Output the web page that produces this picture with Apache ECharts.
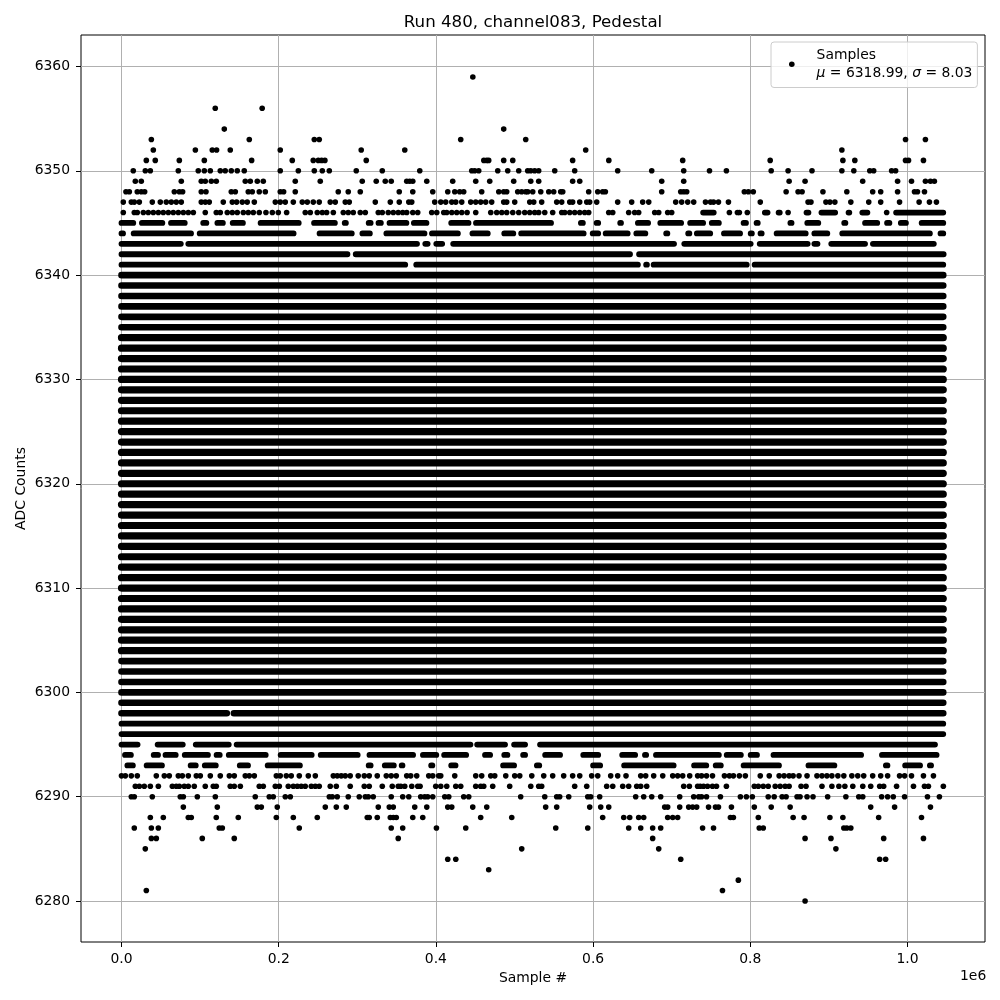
<!DOCTYPE html>
<html>
<head>
<meta charset="utf-8">
<style>html,body{margin:0;padding:0;background:#fff}#c{width:1000px;height:1000px}</style>
<script src="https://cdn.jsdelivr.net/npm/echarts@6/dist/echarts.min.js"></script>
</head>
<body>
<div id="c"></div>
<script>
// Sample numbers are in thousands; ADC levels are the row keys.
const r6359=[447];
const r6356=[119.3,179];
const r6354=[130.8,486.3];
const r6353=[38,162.6,245.3,251.6,431.6,514.3,997.5,1022.8];
const r6352=[40.5,94,115.5,121,138.4,202,305,360.4,590.6,916.5];
const r6351=[31.6,43,73.6,105.4,165.6,217.3,244,250.4,254.6,258.8,311.4,461,464.7,467.2,486.3,497.8,574,620,714,825.3,917.8,933,997.5,1001.3,1020.3];
const r6350=[15,30.3,36.7,72.3,97.7,105.4,113,125.7,132,139.7,147.3,156.2,202,225,245.3,255.5,264.4,298.7,331.8,379.5,445.6,449.4,454.5,478.7,491.4,505.4,516.8,520.7,525.7,530.8,551.2,576.6,631.3,674.6,715.3,748.1,769.6,826.6,848.1,878.5,916.5,931.7,952,957,979.8,984.9];
const r6349=[17.6,25.2,76.1,101.5,106.6,114.3,120.6,157.5,163.9,172.8,180.4,221.1,252.9,306.3,324.1,335.6,343.2,362.9,366.7,370.6,388.4,421.4,450.7,468.5,499,520.7,530.8,574,583,687.3,715.3,849.4,869.7,943,987.4,1005.1,1022.8,1029.2,1034.2];
const r6348=[5.7,10,20.1,25.2,29.5,67.2,73.6,77.8,101.5,107.5,139.7,144.8,161.3,166.4,175.3,183,202,206.3,221.1,275.8,288.5,303.8,353.4,370.6,396,415.1,424,430.3,435.4,458.3,480,486.3,490.1,504.1,509.2,514.3,516.8,523.2,533.4,543.6,549.9,558.8,561.4,594.4,605.9,612.2,615.6,687.3,711.5,715.3,719.1,792.4,797.5,803.8,845.6,860.8,865.9,892.4,922.8,955.7,965.9,987.4,1008.9,1012.7,1021.6];
const r6347=[2.3,12.5,16.3,22.7,39.2,49.4,57,63.4,69.7,76.1,101.5,106.6,111.7,129.5,141,146.5,153.7,160,169,195.7,202,208.4,218.6,230,236.4,244,251.6,265.6,272,284.7,289.8,322.9,342,353.4,365.5,369.3,398.5,406.2,412.5,420.2,425.3,432.9,444.3,450.7,457,463.4,471,486.3,490.1,500.3,519.4,524.5,534.6,553.7,560.1,570.3,574,583,591.9,595.7,604.6,631.3,649.1,663.1,670.8,705.1,712.7,720.4,728,743,749.4,753.2,759.5,772.2,812.7,873.5,877.2,896.2,901.3,907.6,927.9,950.7,965.9,989.9,1014.8,1027.9,1036.8];
const r6346=[2.3,16.3,20.1,27.8,34.1,40.5,46.9,53.2,59.6,65.9,72.3,78.7,85,91.4,106.6,120.6,125.7,134.6,141,147.3,155,161.3,167.7,175.3,183.8,191.9,199.5,210.1,233.8,240.2,249.1,255.5,261,269.5,282.2,288.5,294.9,303.8,310.2,326.7,331.8,339.4,345.8,352.1,357.8,362.9,370.6,376.9,394.7,401.1,410,413.8,420.2,426.5,432.9,439.7,450.7,469.8,477.4,483.8,490.1,497.8,505.4,513,519.4,525.7,530.8,538.5,548.6,560.1,563.9,570.3,576.6,583,589.3,594.4,619.9,625,645.3,652.9,658,678.4,683.5,694.9,700,773.4,783.6,786.1,796.2,848.1,973.5];
const r6292=[0,4.9,12.5,20.1,44.3,54.5,60.8,72.3,77.4,85,95.2,100.3,113,125.7,137.2,143.5,157.5,162.6,169,197,202,209.7,216,226.2,237.7,246.6,269.5,274.5,279.6,284.7,291,301.2,308.9,315.2,325.4,336.9,343.2,349.6,362.9,368,375.6,390.9,396,403.6,406.2,424,450.7,458.3,469.8,474.9,488.9,500.3,506.7,522,537.2,548.6,562.6,574,583,598.2,605.9,622.4,631.3,641.9,660.6,666.9,677.1,688.6,701.3,707.6,714,722.9,733,738,744.3,751.9,767.1,773.4,778.5,786.1,793.7,812.7,824.1,836.7,843,849.4,854.5,862,872.2,884.8,891.2,897.5,903.8,911.4,919,929.2,936.7,944.3,955.7,965.9,974.7,989.9,996.3,1005.1,1020.3,1033];
const r6291=[17.6,22.7,29,36.7,46.9,64.7,69.7,73.6,79.9,85,92.6,106.6,116.8,120.6,138.4,143.5,151.2,175.3,180.4,195.7,200.8,212.2,218.6,223.7,228.7,233.8,241.5,246.6,251.6,265.6,273.3,291,308.9,315.2,331.8,344.5,352.1,355.3,360.4,369.3,376.9,379.9,399.8,406.2,413.8,425.3,431.6,450.7,457,460.9,472.3,493.9,520.7,530.8,534.6,576.6,591.9,617.3,625,637.7,645.3,655.5,660.6,668.2,715.3,722.5,733,736.3,740.5,745.6,751.9,757,769.6,805.1,810.2,816.5,822.8,831.7,838,844.3,849.4,864.6,870.9,891.2,903.8,912.7,920.3,930.4,943.1,953.2,964.6,969.7,986.1,1007.6,1021.6,1026.6,1045.6];
const r6290=[12.5,16.3,39.2,74.8,78.7,96.5,119.4,170.2,188,193.1,208.4,214.8,264.4,268.2,274.5,288.5,302.5,310.2,314,320.3,343.2,357.8,365.5,380.7,385.8,389.6,396,411.3,416.4,435.4,441.8,507.9,538.5,553.7,557.5,569,593.2,597,608.4,654.2,664.4,674.6,686,710.2,728,734.4,738,744.3,762,787.4,795,802.6,822.8,830.4,840.5,845.6,859.5,863.3,872.2,879.8,898.4,921.6,938,943.1,967.1,974.7,981.9,996.3,1025.4,1040.6];
const r6289=[78.7,121.9,172.8,177.9,198.2,259.3,273.3,286,326.7,340.7,345.8,373.1,388.4,415.1,420.2,446.9,464.7,539.7,553.7,595.7,609.7,619.9,691.1,694.9,710.2,721.6,726.7,731.8,746.9,755.7,759.5,776,805.1,826.6,850.7,953.2,983.6,1029.2];
const r6288=[36.7,53.2,85,88.8,120.6,148.6,197,218.6,249.1,312.7,315.2,325.4,342,345.8,349.6,370.6,383.3,457,496.5,612.2,639,646.6,658,664.4,694.9,701.3,707.6,774.7,778.5,810.2,854.5,868.4,901.3,917.8,963.3,1017.8];
const r6287=[16.3,38,46.9,124.4,128.3,226.2,343.2,357.8,400.7,438,552.5,593.2,645.3,660.6,675.8,686,739.3,753.2,811.4,816.5,919,922.8,927.9];
const r6286=[38,44.3,102.8,143.5,352.1,675.8,869.7,902.6,969.7,1020.3];
const r6285=[30.3,509.2,683.5,908.9];
const r6284=[415.1,425.3,711.5,964.6,972.2];
const r6283=[467.2];
const r6282=[784.8];
const r6281=[31.6,764.6];
const r6280=[869.7];

// Runs of overlapping samples in the dense rows: centres of the first and last dot, thousands.
const b6346=[[740,753.5],[818.5,822],[836,837.5],[871.5,874],[890.5,908],[925,926],[942.5,949],[985.5,1045.5]];
const b6345=[[0,15],[26,52],[63,80.5],[90,90],[104,108],[122,129],[141.5,154.5],[164,164],[177,225.5],[234.7,234.7],[245,271.5],[284,285.5],[295,295],[314.5,317],[327,330],[341,362.5],[372,388],[419.5,441.5],[451,546.5],[559,559],[584.5,587],[604.5,606.5],[617.3,617.3],[634.5,635.5],[649,649],[657,670],[685.5,712],[723.5,740],[751,760],[774.7,774.7],[791.5,794.5],[808,809.5],[835.5,835.5],[851,852.5],[872.5,886.5],[905.2,905.2],[919.5,921],[933.5,933.5],[946,961.5],[974,977],[991.5,998],[1018,1045.5]];
const b6344=[[0,2],[15.5,88.5],[99.5,219],[232,232],[242.7,242.7],[252,293],[306.5,316],[337,385.5],[395,428],[437,437.5],[446.5,466],[476,476],[487,498.5],[508.5,588],[599.5,606.5],[616,644],[655,666.5],[676,676],[693,694.5],[702.6,702.6],[711.5,711.5],[721,722.5],[732,749],[766.5,787],[800.5,802],[813,814.5],[833.5,870.5],[881.5,898],[917,1028.5],[1042,1045.5]];
const b6343=[[0,75.5],[85,376],[386.5,389.5],[400.5,408],[422,703],[716,800.5],[812,873],[881.5,885.5],[893.7,893.7],[903,946],[956,1033.5],[1045,1045.5]];
const b6342=[[0,287.5],[298,647],[658.5,1046]];
const b6341=[[0,361],[375,657],[667.5,668.5],[677,795.5],[805.5,1045.5]];
const b6298=[[0,134],[143,1045.5]];
const b6295=[[0,20.5],[35.5,35.5],[46,78],[94.5,136.5],[146.5,444],[452.5,488],[499.5,513.5],[522.5,522.5],[532.5,1035]];
const b6294=[[4.5,12],[23,23.5],[41,46.5],[56,69],[80.5,110],[121,125],[136.5,183.5],[190.6,190.6],[202.5,242],[253.5,300.5],[315.5,371],[383.5,400.5],[410.5,438.5],[450.7,450.7],[462.5,469],[487,491],[499,499],[511,513.5],[524.5,524.5],[539,558],[570,570],[587.5,606.5],[620,620.5],[637,653.5],[666,667.5],[680,760],[770,788],[800.5,808.5],[829.5,941],[952.5,952.5],[967.5,1037],[1045,1045]];
const b6293=[[7.5,14.5],[32,51.5],[69.7,69.7],[88,94.5],[106,120],[136,136],[150.5,161],[174,174],[186,227],[239,239],[268.2,268.2],[280,280.5],[291,291],[314.5,317],[335,346.5],[356.5,357.5],[368,368],[394,395.5],[419.5,425],[452,452],[459.6,459.6],[470,470.5],[485.5,499.5],[513,513],[528.5,531.5],[548.6,548.6],[557.5,557.5],[574,574],[600,609],[621,621],[630,630],[639.5,702.5],[715,715],[728.5,744],[756,762.5],[776,776],[791.5,836.5],[844.3,844.3],[854.5,854.5],[874,907],[919.5,920],[940,940],[959,959],[972.5,974.5],[986,986],[997,1016],[1028.5,1030],[1044.4,1044.4]];

// Rows in which the samples merge into an unbroken run from first to last sample.
const coreLevels=[6304,6305,6306,6307,6308,6309,6310,6311,6312,6313,6314,6315,6316,6317,6318,6319,6320,6321,6322,6323,6324,6325,6326,6327,6328,6329,6330,6331,6332,6333,6334];
const shoulderLevels=[6299,6300,6301,6302,6303,6335,6336,6337,6338,6339,6340];
const edgeLevels=[6296,6297];
const solidRun=[0,1045.5];

const xTicks=[0,200000,400000,600000,800000,1000000];
const yTicks=[6280,6290,6300,6310,6320,6330,6340,6350,6360];

const pointRows=[[6359,r6359],[6356,r6356],[6354,r6354],[6353,r6353],[6352,r6352],[6351,r6351],[6350,r6350],[6349,r6349],[6348,r6348],[6347,r6347],[6346,r6346],[6292,r6292],[6291,r6291],[6290,r6290],[6289,r6289],[6288,r6288],[6287,r6287],[6286,r6286],[6285,r6285],[6284,r6284],[6283,r6283],[6282,r6282],[6281,r6281],[6280,r6280]];
const thinRows=[[6346,b6346],[6345,b6345],[6344,b6344],[6343,b6343],[6342,b6342],[6341,b6341],[6295,b6295],[6294,b6294],[6293,b6293]];
edgeLevels.forEach(l=>thinRows.push([l,[solidRun]]));
const midRows=[[6298,b6298]];
shoulderLevels.forEach(l=>midRows.push([l,[solidRun]]));
const coreRows=coreLevels.map(l=>[l,[solidRun]]);

const points=[];
pointRows.forEach(([lvl,xs])=>xs.forEach(x=>points.push([x*1000,lvl])));
function runsOf(rows){
  const out=[];
  rows.forEach(([lvl,segs])=>segs.forEach(([a,b])=>{
    if(b<=a) b=a+0.6;
    out.push([a*1000,lvl],[b*1000,lvl],['-','-']);
  }));
  return out;
}
function runSeries(name,rows,width){
  return {type:'line',name,data:runsOf(rows),showSymbol:false,symbol:'none',connectNulls:false,
    lineStyle:{color:'#000',width,cap:'round',join:'round'},silent:true,z:3,emphasis:{disabled:true},clip:true};
}

const FONT='"DejaVu Sans"';
const chart=echarts.init(document.getElementById('c'),null,{renderer:'canvas'});
chart.setOption({
  animation:false,
  backgroundColor:'#fff',
  textStyle:{fontFamily:FONT},
  title:{text:'Run 480, channel083, Pedestal',left:528,top:9,textAlign:'center',
    textStyle:{fontFamily:FONT,fontSize:16.67,fontWeight:'normal',color:'#000'}},
  grid:{left:81,right:15,top:35,bottom:58,show:true,borderColor:'#000',borderWidth:1,backgroundColor:'#fff'},
  legend:{show:true,data:['Samples'],left:771,top:42,orient:'vertical',
    padding:[6,5,7,18],itemWidth:5.6,itemHeight:5.6,icon:'circle',
    backgroundColor:'rgba(255,255,255,0.8)',borderColor:'#ccc',borderWidth:1,borderRadius:3,
    itemStyle:{color:'#000',opacity:1},
    formatter:()=>'{a|Samples}\n{i|μ}{a| = 6318.99, }{i|σ}{a| = 8.03}',
    textStyle:{fontFamily:FONT,fontSize:13.9,color:'#000',padding:[0,0,0,17],
      rich:{a:{fontFamily:FONT,fontSize:13.9,lineHeight:18.5,color:'#000'},
            i:{fontFamily:FONT,fontSize:13.9,lineHeight:18.5,fontStyle:'italic',color:'#000'}}}},
  xAxis:{type:'value',min:-51500,max:1098600,
    name:'Sample #',nameLocation:'middle',nameGap:29,
    nameTextStyle:{fontFamily:FONT,fontSize:13.9,color:'#000'},
    axisLine:{show:false,onZero:false},
    axisTick:{show:true,length:5,lineStyle:{color:'#000',width:1},customValues:xTicks},
    axisLabel:{fontFamily:FONT,fontSize:13.9,color:'#000',margin:10,customValues:xTicks,
      formatter:v=>(v/1e6).toFixed(1)},
    splitLine:{show:true,lineStyle:{color:'#b0b0b0',width:1}}},
  yAxis:{type:'value',min:6276.07,max:6363.02,
    name:'ADC Counts',nameLocation:'middle',nameGap:53,nameMoveOverlap:false,
    nameTextStyle:{fontFamily:FONT,fontSize:13.9,color:'#000'},
    axisLine:{show:false,onZero:false},
    axisTick:{show:true,length:5,lineStyle:{color:'#000',width:1},customValues:yTicks},
    axisLabel:{fontFamily:FONT,fontSize:13.9,color:'#000',margin:11,customValues:yTicks,
      formatter:v=>String(Math.round(v))},
    splitLine:{show:true,lineStyle:{color:'#b0b0b0',width:1}}},
  graphic:[{type:'text',left:960,top:969,silent:true,
    style:{text:'1e6',fontFamily:FONT,fontSize:13.9,fill:'#000'}}],
  series:[
    runSeries('Merged runs',thinRows,5.8),
    runSeries('Merged runs mid',midRows,6.6),
    runSeries('Merged runs core',coreRows,7.2),
    {type:'scatter',name:'Samples',data:points,symbol:'circle',symbolSize:5.6,
     itemStyle:{color:'#000',opacity:1},silent:true,z:4,emphasis:{disabled:true}}
  ]
});
</script>
</body>
</html>
